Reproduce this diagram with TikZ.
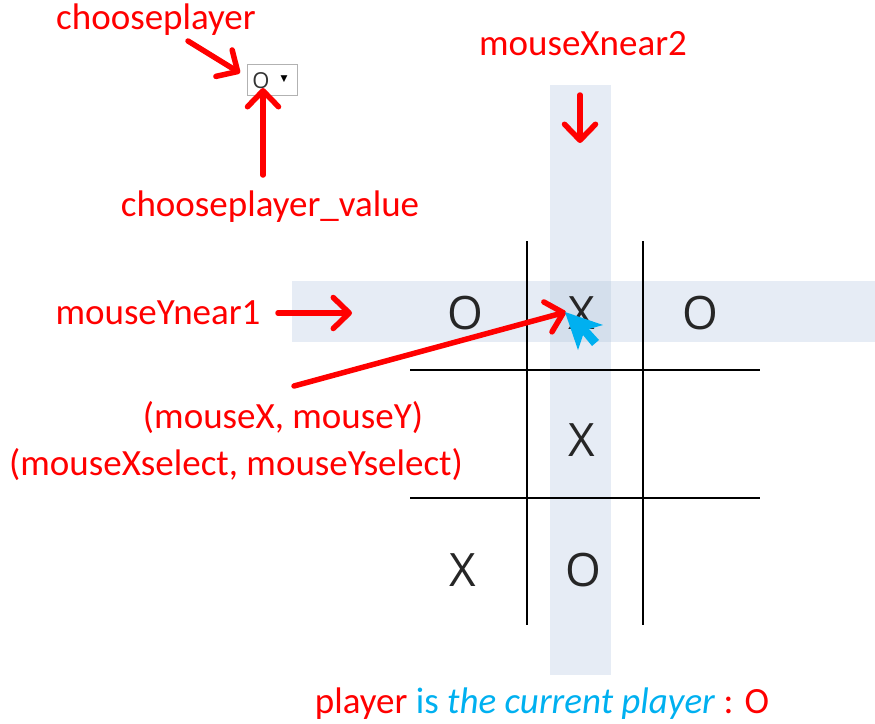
\documentclass[tikz,border=0pt]{standalone}
\usepackage{fontspec}
\setmainfont{Carlito}
\newfontfamily\gridfont{Open Sans}
\newfontfamily\symfont{DejaVu Sans}
\usetikzlibrary{arrows.meta}
\definecolor{callred}{HTML}{FF0000}
\definecolor{hintcyan}{HTML}{00B0F0}
\definecolor{bandfill}{HTML}{E6ECF5}
\definecolor{bandcross}{HTML}{D4DFEC}
\begin{document}
\begin{tikzpicture}[x=1pt,y=-1pt,
  lbl/.style={text=callred, font=\fontsize{37}{44}\selectfont, inner sep=0pt},
  cellsym/.style={font=\gridfont\fontsize{46}{50}\selectfont, text=black!85, inner sep=0pt},
  callout/.style={draw=callred, line width=5.5pt, line cap=round,
    -{Straight Barb[length=16pt,width=31pt,line cap=round,line join=round]}},
  gridline/.style={draw=black, line width=2.3pt},
]
\useasboundingbox (0,0) rectangle (875,723);

% highlighted row and column
\fill[bandfill] (550,85) rectangle (611,675);
\fill[bandfill] (292,281) rectangle (875,342);
\fill[bandcross] (550,281) rectangle (611,342);

% board
\draw[gridline] (527,241) -- (527,625);
\draw[gridline] (643,241) -- (643,625);
\draw[gridline] (410,370) -- (760,370);
\draw[gridline] (410,498) -- (760,498);

\node[cellsym] (c11) at (465,313) {O};
\node[cellsym] (c12) at (582,313) {X};
\node[cellsym] (c13) at (700,313) {O};
\node[cellsym] (c22) at (582,440) {X};
\node[cellsym] (c31) at (463,570) {X};
\node[cellsym] (c32) at (583,570) {O};

% drop-down selector
\draw[draw=black!30, fill=white, line width=1pt] (247,64) rectangle (297,95);
\node[inner sep=0pt, font=\gridfont\fontsize{22}{24}\selectfont, text=black!80] (selval) at (261,81) {O};
\node[inner sep=0pt, font=\symfont\fontsize{9}{10}\selectfont] (seltri) at (284,79) {▼};

% labels
\node[lbl] (lchoose) at (156,20) {chooseplayer};
\node[lbl] (lvalue) at (270,207) {chooseplayer\_value};
\node[lbl] (lxnear) at (583,44) {mouseXnear2};
\node[lbl] (lynear) at (158,313) {mouseYnear1};
\node[lbl] (lmouse) at (283,418) {(mouseX, mouseY)};
\node[lbl] (lselect) at (236,465) {(mouseXselect, mouseYselect)};
\node[lbl, anchor=base] (lplayer) at (542,713) {player \textcolor{hintcyan}{is \textit{the current player}} : O};

% callout arrows
\coordinate (choosetip) at (240,73);
\coordinate (valuetip) at (263,88);
\coordinate (xneartip) at (580,143);
\coordinate (yneartip) at (352,313);
\coordinate (mousetip) at (566,312);
\coordinate (choosetail) at (188,41);
\coordinate (valuetail) at (263,175);
\coordinate (xneartail) at (580,95);
\coordinate (yneartail) at (278,313);
\coordinate (mousetail) at (294,386);
\draw[callout] (choosetail) -- (choosetip);
\draw[callout] (valuetail) -- (valuetip);
\draw[callout] (xneartail) -- (xneartip);
\draw[callout] (yneartail) -- (yneartip);
\draw[callout] (mousetail) -- (mousetip);

% mouse pointer
\fill[hintcyan] (565,312) -- (603,325) -- (589,329) -- (599,340) -- (592,346) -- (583,335) -- (578,350) -- cycle;
\end{tikzpicture}
\end{document}
